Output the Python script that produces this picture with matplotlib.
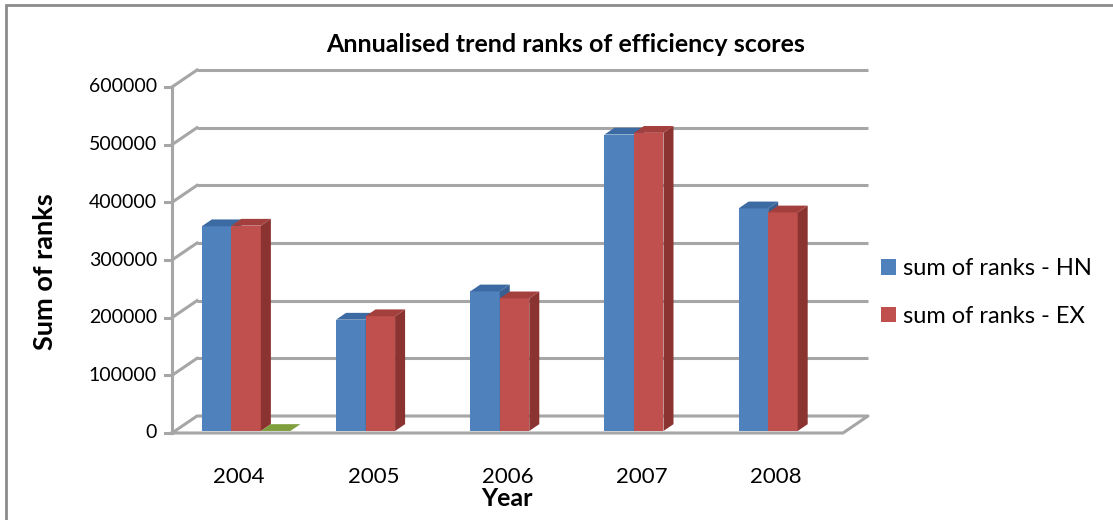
import matplotlib
matplotlib.use("Agg")
import matplotlib.pyplot as plt
from matplotlib.patches import Polygon, Rectangle, Patch
import numpy as np

# ---- data ----
years = ["2004", "2005", "2006", "2007", "2008"]
hn_values = [355000, 193000, 242000, 514000, 386000]
ex_values = [356000, 199000, 230000, 517000, 379000]
extra_values = [0, None, None, None, None]   # tiny third series visible only in 2004
y_ticks = [0, 100000, 200000, 300000, 400000, 500000, 600000]
series_names = ["sum of ranks - HN", "sum of ranks - EX"]
title = "Annualised trend ranks of efficiency scores"

# ---- geometry (pixel layout of the reference) ----
W, H, DPI = 1113, 520, 100
X0_PX, CAT_PX = 172, 134.2          # front-left floor corner, pixels per category
Y0_PX, VAL_PX = 433, 346 / 600000   # front zero line, pixels per value unit
DEPTH_DX = 25 / CAT_PX              # back-wall shift in category units
DEPTH_DY = 17 / VAL_PX              # back-wall shift in value units

fig = plt.figure(figsize=(W / DPI, H / DPI), dpi=DPI)
ax = fig.add_axes([0, 0, 1, 1])
ax.set_xlim(-0.5 + (0 - X0_PX) / CAT_PX, -0.5 + (W - X0_PX) / CAT_PX)
ax.set_ylim((Y0_PX - H) / VAL_PX, Y0_PX / VAL_PX)
ax.axis("off")

FONT = ["Lato", "DejaVu Sans"]
grid_c = "#a6a6a6"
xmin, xmax = -0.5, len(years) - 0.5
vmax = y_ticks[-1]

def px2x(px):
    return -0.5 + (px - X0_PX) / CAT_PX

def px2y(py):
    return (Y0_PX - py) / VAL_PX

# back wall gridlines and left wall diagonals
for t in y_ticks[1:]:
    ax.plot([xmin + DEPTH_DX, xmax + DEPTH_DX], [t + DEPTH_DY, t + DEPTH_DY],
            color=grid_c, lw=2.2, zorder=1, solid_capstyle="butt")
    ax.plot([xmin, xmin + DEPTH_DX], [t, t + DEPTH_DY], color=grid_c, lw=2.2, zorder=1)
# floor
floor = [(xmin, 0), (xmax, 0), (xmax + DEPTH_DX, DEPTH_DY), (xmin + DEPTH_DX, DEPTH_DY), (xmin, 0)]
ax.plot([p[0] for p in floor], [p[1] for p in floor], color=grid_c, lw=2.2, zorder=1)
# vertical axis and ticks
ax.plot([xmin, xmin], [0, vmax], color=grid_c, lw=2.2, zorder=2)
for t in y_ticks:
    ax.plot([xmin - 7 / CAT_PX, xmin], [t, t], color=grid_c, lw=2.2, zorder=2)
    ax.text(px2x(157), t, f"{t}", ha="right", va="center", fontsize=14,
            family=FONT, color="black")

# bars
F0, F1 = 0.12, 0.52   # front / back depth fraction of bars
BW = 0.22
series = [
    (hn_values, -0.30, "#4f81bd", "#3c6aa3", "#375f92"),
    (ex_values, -0.08, "#c0504d", "#a33f3c", "#8a3330"),
    (extra_values, 0.14, "#9bbb59", "#7f9f3f", "#6f8c35"),
]
for vals, off, front_c, top_c, side_c in series:
    for i, v in enumerate(vals):
        if v is None:
            continue
        x0 = i + off + F0 * DEPTH_DX
        y0 = F0 * DEPTH_DY
        dx = (F1 - F0) * DEPTH_DX
        dy = (F1 - F0) * DEPTH_DY
        top = y0 + v
        z = 5 + i
        if v > 0:
            ax.add_patch(Rectangle((x0, y0), BW, v, facecolor=front_c, edgecolor="none", zorder=z))
            ax.add_patch(Polygon([(x0 + BW, y0), (x0 + BW + dx, y0 + dy), (x0 + BW + dx, top + dy),
                                  (x0 + BW, top)], closed=True, facecolor=side_c,
                                 edgecolor="none", zorder=z))
        ax.add_patch(Polygon([(x0, top), (x0 + BW, top), (x0 + BW + dx, top + dy), (x0 + dx, top + dy)],
                             closed=True, facecolor=top_c, edgecolor="none", zorder=z))

# category labels
for i, yr in enumerate(years):
    ax.text(i, px2y(477), yr, ha="center", va="center", fontsize=16, family=FONT, color="black")

ax.text(px2x(507), px2y(499), "Year", ha="center", va="center", fontsize=18,
        fontweight="bold", family=FONT)
ax.text(px2x(45), px2y(272), "Sum of ranks", ha="center", va="center", rotation=90,
        fontsize=19.5, fontweight="bold", family=FONT)
ax.text(px2x(566), px2y(44), title, ha="center", va="center", fontsize=18,
        fontweight="bold", family=FONT)

handles = [Patch(facecolor="#4f81bd", edgecolor="none"), Patch(facecolor="#c0504d", edgecolor="none")]
leg = fig.legend(handles, series_names, loc="upper left", bbox_to_anchor=(881 / W, 1 - 258 / H),
                 frameon=False, prop={"family": FONT, "size": 17}, handlelength=0.64,
                 handleheight=0.64, handletextpad=0.28, labelspacing=1.13, borderaxespad=0,
                 borderpad=0)

# outer border
fig.add_artist(Rectangle((6 / W, -0.05), 1.1, 1 - 5 / H + 0.05, transform=fig.transFigure,
                         facecolor="none", edgecolor="#8c8c8c", lw=2))

fig.savefig("out.png", dpi=DPI)
